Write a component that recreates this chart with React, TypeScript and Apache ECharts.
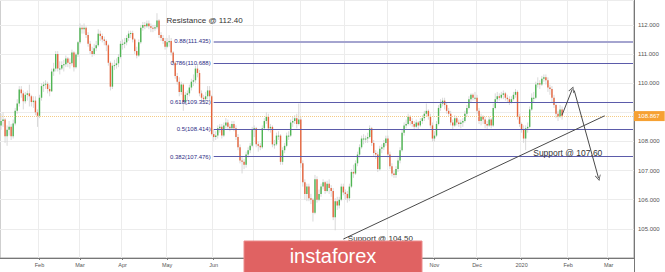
import React, { useEffect, useRef } from 'react';
import * as echarts from 'echarts';

// ---- Daily candles [open, close, low, high], one small array per month ----
const jan19 = [
  [108.55,108.70,108.40,108.95],[108.70,108.75,108.50,109.00],[108.75,108.18,107.95,108.80],[108.18,108.40,107.85,108.55],
  [108.40,108.50,108.20,108.70],[108.50,108.18,108.05,108.60],[108.18,108.62,108.10,108.75],[108.62,109.05,108.55,109.15],
  [109.05,109.30,108.95,109.45],[109.30,109.78,109.20,109.90],[109.78,109.65,109.50,109.90],[109.65,109.38,109.10,109.75],
  [109.38,109.60,109.30,109.70],[109.60,109.65,109.40,109.75],[109.65,109.55,109.20,109.95],[109.55,109.35,109.20,109.60],
  [109.35,109.40,109.15,109.55],[109.40,109.00,108.90,109.55],[109.00,108.88,108.50,109.10],
];
const feb19 = [
  [108.88,109.50,108.80,109.60],[109.50,109.90,109.40,110.00],[109.90,109.95,109.70,110.05],[109.95,109.98,109.80,110.10],
  [109.98,109.80,109.65,110.05],[109.80,109.72,109.55,109.95],[109.72,110.40,109.70,110.50],[110.40,110.50,110.25,110.70],
  [110.50,111.00,110.40,111.10],[111.00,110.50,110.40,111.10],[110.50,110.50,110.30,110.75],[110.50,110.62,110.45,110.75],
  [110.62,110.65,110.40,110.80],[110.65,110.85,110.55,110.95],[110.85,110.70,110.55,110.90],[110.70,110.68,110.50,110.85],
  [110.68,111.05,110.60,111.15],[111.05,110.55,110.40,111.10],[110.55,110.98,110.50,111.05],[110.98,111.40,110.90,111.45],
];
const mar19 = [
  [111.40,111.90,111.35,112.05],[111.90,111.85,111.70,112.00],[111.85,111.90,111.70,112.05],[111.90,111.65,111.55,111.95],
  [111.65,111.35,111.25,111.75],[111.35,111.10,111.00,111.45],[111.10,111.00,110.90,111.25],[111.00,111.20,110.95,111.35],
  [111.20,111.30,111.10,111.45],[111.30,111.70,111.25,111.85],[111.70,111.62,111.45,111.80],[111.62,111.50,111.40,111.70],
  [111.50,111.45,111.30,111.60],[111.45,111.30,111.10,111.50],[111.30,110.70,110.60,111.35],[110.70,109.88,109.75,110.75],
  [109.88,110.60,109.80,110.70],[110.60,110.62,110.45,110.80],[110.62,110.68,110.50,110.85],[110.68,110.90,110.55,111.00],
  [110.90,111.35,110.85,111.45],
];
const apr19 = [
  [111.35,111.35,111.15,111.50],[111.35,111.40,111.20,111.55],[111.40,111.55,111.30,111.65],[111.55,111.70,111.45,111.80],
  [111.70,111.72,111.55,111.80],[111.72,111.50,111.40,111.80],[111.50,111.10,111.00,111.55],[111.10,110.95,110.85,111.25],
  [110.95,111.40,110.90,111.50],[111.40,111.90,111.35,112.00],[111.90,112.00,111.80,112.10],[112.00,111.95,111.85,112.10],
  [111.95,112.05,111.90,112.15],[112.05,111.95,111.85,112.15],[111.95,111.90,111.75,112.05],[111.90,111.88,111.75,112.00],
  [111.88,111.92,111.80,112.00],[111.92,112.15,111.85,112.40],[112.15,111.65,111.55,112.20],[111.65,111.55,111.45,111.75],
  [111.55,111.45,111.35,111.65],[111.45,111.25,111.15,111.55],
];
const may19 = [
  [111.25,111.40,111.20,111.55],[111.40,111.45,111.25,111.65],[111.45,111.05,110.95,111.55],[111.05,110.70,110.60,111.10],
  [110.70,110.25,110.15,110.75],[110.25,110.05,109.95,110.35],[110.05,109.70,109.55,110.20],[109.70,109.95,109.60,110.05],
  [109.95,109.35,109.05,110.00],[109.35,109.60,109.25,109.70],[109.60,109.65,109.40,109.75],[109.65,109.85,109.55,109.95],
  [109.85,110.05,109.75,110.15],[110.05,110.10,109.90,110.30],[110.10,110.50,110.00,110.60],[110.50,110.35,110.20,110.65],
  [110.35,109.65,109.55,110.45],[109.65,109.50,109.35,109.75],[109.50,109.45,109.30,109.60],[109.45,109.55,109.35,109.70],
  [109.55,109.75,109.45,109.90],[109.75,109.55,109.40,109.90],[109.55,108.25,108.20,109.60],
];
const jun19 = [
  [108.25,108.15,108.00,108.40],[108.15,108.20,108.05,108.35],[108.20,108.45,108.10,108.55],[108.45,108.50,108.30,108.60],
  [108.50,108.20,108.10,108.60],[108.20,108.55,108.15,108.65],[108.55,108.65,108.45,108.80],[108.65,108.50,108.40,108.75],
  [108.50,108.45,108.35,108.60],[108.45,108.60,108.40,108.70],[108.60,108.45,108.35,108.70],[108.45,108.15,108.05,108.55],
  [108.15,107.80,107.70,108.25],[107.80,107.35,107.25,107.90],[107.35,107.30,106.90,107.50],[107.30,107.20,107.05,107.40],
  [107.20,107.55,107.10,107.65],[107.55,107.70,107.45,107.80],[107.70,107.85,107.60,107.95],[107.85,108.40,107.80,108.50],
];
const jul19 = [
  [108.40,108.45,108.15,108.55],[108.45,107.90,107.80,108.50],[107.90,107.85,107.65,108.00],[107.85,107.80,107.70,107.95],
  [107.80,108.45,107.75,108.55],[108.45,108.70,108.40,108.80],[108.70,108.85,108.60,109.00],[108.85,108.45,108.35,108.95],
  [108.45,108.50,108.30,108.60],[108.50,107.90,107.80,108.55],[107.90,107.90,107.75,108.05],[107.90,108.20,107.85,108.30],
  [108.20,108.20,108.05,108.35],[108.20,107.30,107.20,108.25],[107.30,107.70,107.20,107.80],[107.70,107.85,107.60,107.95],
  [107.85,108.20,107.80,108.30],[108.20,108.20,108.05,108.35],[108.20,108.65,108.15,108.75],[108.65,108.70,108.50,108.85],
  [108.70,108.80,108.60,108.90],[108.80,108.60,108.45,108.95],[108.60,108.75,108.55,109.30],
];
const aug19 = [
  [108.75,107.25,107.10,108.85],[107.25,106.60,106.45,107.35],[106.60,106.20,106.00,106.70],[106.20,106.45,105.95,106.55],
  [106.45,106.05,105.95,106.55],[106.05,106.00,105.85,106.20],[106.00,105.55,105.25,106.05],[105.55,106.70,105.50,106.85],
  [106.70,106.00,105.90,106.80],[106.00,106.20,105.95,106.35],[106.20,106.45,106.10,106.55],[106.45,106.60,106.35,106.70],
  [106.60,106.30,106.20,106.65],[106.30,106.55,106.25,106.65],[106.55,106.40,106.20,106.70],[106.40,106.30,106.10,106.50],
  [106.30,105.40,105.30,106.40],[105.40,105.95,104.95,106.05],[105.95,105.80,105.65,106.10],[105.80,106.00,105.70,106.10],
  [106.00,106.45,105.95,106.55],[106.45,106.25,106.15,106.55],
];
const sep19 = [
  [106.25,106.20,106.00,106.35],[106.20,106.05,105.90,106.30],[106.05,106.45,105.95,106.55],[106.45,106.95,106.40,107.05],
  [106.95,106.90,106.75,107.20],[106.90,107.25,106.85,107.35],[107.25,107.55,107.15,107.65],[107.55,107.80,107.45,107.90],
  [107.80,108.10,107.75,108.20],[108.10,108.10,107.90,108.25],[108.10,108.10,107.95,108.20],[108.10,108.15,107.95,108.30],
  [108.15,108.45,108.10,108.55],[108.45,107.95,107.85,108.50],[107.95,107.60,107.50,108.05],[107.60,107.55,107.40,107.70],
  [107.55,107.05,106.95,107.65],[107.05,107.75,107.00,107.85],[107.75,107.80,107.60,107.90],[107.80,107.95,107.70,108.05],
  [107.95,108.10,107.85,108.20],
];
const oct19 = [
  [108.10,107.55,107.45,108.20],[107.55,107.15,107.05,107.65],[107.15,106.90,106.80,107.25],[106.90,106.85,106.75,107.00],
  [106.85,107.05,106.75,107.15],[107.05,107.35,106.95,107.45],[107.35,107.70,107.25,107.80],[107.70,108.30,107.65,108.40],
  [108.30,108.55,108.20,108.65],[108.55,108.60,108.45,108.75],[108.60,108.85,108.55,108.95],[108.85,108.70,108.55,108.90],
  [108.70,108.60,108.50,108.80],[108.60,108.50,108.40,108.70],[108.50,108.65,108.45,108.75],[108.65,108.55,108.40,108.70],
  [108.55,108.70,108.50,108.80],[108.70,108.80,108.60,108.90],[108.80,108.95,108.70,109.05],[108.95,109.05,108.85,109.30],
  [109.05,108.85,108.75,109.10],[108.85,108.55,108.45,108.95],[108.55,108.10,108.00,108.65],
];
const nov19 = [
  [108.10,108.20,108.00,108.35],[108.20,108.60,108.15,108.70],[108.60,109.15,108.55,109.25],[109.15,109.30,109.05,109.45],
  [109.30,109.40,109.20,109.50],[109.40,109.25,109.10,109.50],[109.25,109.05,108.95,109.35],[109.05,108.95,108.85,109.15],
  [108.95,108.65,108.55,109.05],[108.65,108.55,108.40,108.75],[108.55,108.80,108.50,108.90],[108.80,108.65,108.55,108.85],
  [108.65,108.60,108.50,108.75],[108.60,108.65,108.45,108.75],[108.65,108.70,108.50,108.80],[108.70,108.95,108.65,109.05],
  [108.95,109.15,108.85,109.25],[109.15,109.45,109.10,109.55],[109.45,109.60,109.35,109.65],[109.60,109.50,109.40,109.65],
  [109.50,109.50,109.40,109.70],
];
const dec19 = [
  [109.50,109.05,108.95,109.60],[109.05,108.70,108.60,109.15],[108.70,108.85,108.55,108.95],[108.85,108.75,108.60,108.90],
  [108.75,108.60,108.45,108.85],[108.60,108.55,108.40,108.70],[108.55,108.75,108.50,108.85],[108.75,108.55,108.45,108.80],
  [108.55,109.15,108.50,109.30],[109.15,109.45,109.10,109.65],[109.45,109.55,109.35,109.70],[109.55,109.50,109.40,109.65],
  [109.50,109.60,109.45,109.70],[109.60,109.65,109.45,109.75],[109.65,109.50,109.40,109.70],[109.50,109.45,109.35,109.60],
  [109.45,109.35,109.25,109.55],[109.35,109.45,109.30,109.55],[109.45,109.60,109.40,109.70],[109.60,109.70,109.50,109.80],
  [109.70,108.85,108.75,109.75],[108.85,108.60,108.50,108.95],
];
const jan20 = [
  [108.60,108.40,108.30,108.65],[108.40,108.10,107.95,108.55],[108.10,108.45,107.70,108.55],[108.45,108.50,108.30,108.65],
  [108.50,109.10,108.45,109.20],[109.10,109.50,109.05,109.65],[109.50,109.50,109.35,109.70],[109.50,109.95,109.45,110.05],
  [109.95,110.00,109.85,110.20],[110.00,109.95,109.80,110.10],[109.95,110.15,109.90,110.25],[110.15,110.20,110.05,110.30],
  [110.20,110.10,109.95,110.30],[110.10,109.85,109.70,110.20],[109.85,109.80,109.60,109.95],[109.80,109.50,109.35,109.90],
  [109.50,109.25,109.15,109.60],[109.25,108.95,108.80,109.30],[108.95,108.85,108.70,109.05],[108.85,109.10,108.80,109.25],
  [109.10,108.867,108.75,109.20],
];

// ---- Annotation values ----
const fibRatios = ['0.88', '0.786', '0.618', '0.5', '0.382'];
const fibPrices = [111.435, 110.688, 109.352, 108.414, 107.476];
const lastPrice = 108.867;
const resistanceText = 'Resistance @ 112.40';
const supportLowText = 'Support @ 104.50';
const supportText = 'Support @ 107.60';
const monthNames = ['Jan','Feb','Mar','Apr','May','Jun','Jul','Aug','Sep','Oct','Nov','Dec'];
// month labels that sit under the logo in the reference (not visible there)
const hiddenMonthLabels = ['2019-07', '2019-08', '2019-09', '2019-10'];
// y tick label that sits under the last-price box
const hiddenPriceLabel = 109;

const UP = '#4fb553';
const DOWN = '#e6663f';
const FONT = '"Liberation Sans", Arial, sans-serif';
const CATEGORY_COUNT = 313;

function buildDays(n: number): string[] {
  const out: string[] = [];
  let t = Date.UTC(2019, 0, 7);
  while (out.length < n) {
    const d = new Date(t);
    const wd = d.getUTCDay();
    if (wd !== 0 && wd !== 6) out.push(d.toISOString().slice(0, 10));
    t += 86400000;
  }
  return out;
}

export default function App() {
  const ref = useRef<HTMLDivElement>(null);
  useEffect(() => {
    document.body.style.margin = '0';
    const chart = echarts.init(ref.current!, null, { renderer: 'svg' });

    const days = buildDays(CATEGORY_COUNT);
    const monthStarts = new Set<number>();
    for (let i = 1; i < days.length; i++) {
      if (days[i].slice(5, 7) !== days[i - 1].slice(5, 7)) monthStarts.add(i);
    }
    const isMonth = (idx: number) => monthStarts.has(idx);
    const isLabel = (idx: number) => monthStarts.has(idx) && !hiddenMonthLabels.includes(days[idx].slice(0, 7));
    const labelFor = (v: string) => {
      const m = parseInt(v.slice(5, 7), 10);
      return m === 1 ? v.slice(0, 4) : monthNames[m - 1];
    };

    const ohlc = [...jan19, ...feb19, ...mar19, ...apr19, ...may19, ...jun19, ...jul19,
      ...aug19, ...sep19, ...oct19, ...nov19, ...dec19, ...jan20];
    const candles = ohlc.map((d, i) => [i, d[0], d[1], d[2], d[3]]);
    const lastCat = CATEGORY_COUNT - 1;
    const fibStart = 105;
    const chevron = 'path://M5,0L10,10L8.6,10L5,2.8L1.4,10L0,10Z';

    const fibLines = fibPrices.map((p, k) => [
      {
        coord: [fibStart, p],
        lineStyle: { color: k === 0 ? '#a4a4cf' : '#5b5baa', width: k === 0 ? 2 : 1, type: 'solid' },
        label: {
          show: true, position: 'start', distance: 3,
          formatter: `${fibRatios[k]}(${p.toFixed(3)})`,
          color: '#2c2c85', fontSize: 6, fontFamily: FONT,
        },
      },
      { coord: [lastCat, p] },
    ]);

    const option: any = {
      animation: false,
      backgroundColor: '#ffffff',
      grid: { left: 0, right: 31, top: 0, bottom: 14, show: true, borderColor: '#a0a0a0', borderWidth: 1 },
      xAxis: {
        type: 'category',
        data: days,
        boundaryGap: true,
        axisLine: { lineStyle: { color: '#777', width: 1 } },
        axisTick: { show: true, alignWithLabel: true, length: 2, interval: isMonth, lineStyle: { color: '#777' } },
        axisLabel: { interval: isLabel, formatter: (v: string) => labelFor(v), fontSize: 5.5, color: '#555', margin: 4, fontFamily: FONT },
        splitLine: { show: true, interval: isMonth, lineStyle: { color: '#ececec', width: 1 } },
      },
      yAxis: {
        type: 'value',
        position: 'right',
        min: 104,
        max: 112.854,
        interval: 1,
        axisLine: { show: true, lineStyle: { color: '#777' } },
        axisTick: { show: false },
        axisLabel: {
          formatter: (v: number) => (Math.abs(v - hiddenPriceLabel) < 1e-6 ? '' : v.toFixed(3)),
          fontSize: 6, color: '#555', margin: 4,
          showMinLabel: false, showMaxLabel: false, fontFamily: FONT,
        },
        splitLine: { show: true, lineStyle: { color: '#ececec', width: 1 } },
      },
      series: [
        {
          type: 'line',
          name: 'marks',
          data: [],
          z: 1,
          silent: true,
          markLine: {
            silent: true,
            animation: false,
            symbol: ['none', 'none'],
            data: [
              ...fibLines,
              {
                yAxis: lastPrice,
                lineStyle: { color: '#f4cb85', width: 1, type: 'dotted' },
                label: {
                  show: true, position: 'end', distance: 0, formatter: lastPrice.toFixed(3),
                  backgroundColor: '#f6a133', color: '#ffffff', padding: [2, 5, 2, 4],
                  fontSize: 6, fontFamily: FONT,
                },
              },
              [
                { coord: [169, 104.65], lineStyle: { color: '#4a4a4a', width: 1, type: 'solid' }, label: { show: false } },
                { coord: [298, 108.88] },
              ],
              [
                { coord: [277, 108.91], lineStyle: { color: '#4a4a4a', width: 1, type: 'solid' }, label: { show: false } },
                { coord: [282, 109.79], symbol: chevron, symbolSize: [6, 6] },
              ],
              [
                { coord: [283, 109.75], lineStyle: { color: '#4a4a4a', width: 1, type: 'solid' }, label: { show: false } },
                { coord: [295, 106.74], symbol: chevron, symbolSize: [6, 6] },
              ],
            ],
          },
          markPoint: {
            silent: true,
            animation: false,
            symbol: 'circle',
            symbolSize: 1,
            itemStyle: { color: 'rgba(0,0,0,0)' },
            label: { show: true, position: 'right', distance: 1, color: '#333', fontSize: 8, fontFamily: FONT },
            data: [
              { coord: [81, 112.14], label: { formatter: resistanceText } },
              { coord: [170, 104.66], label: { formatter: supportLowText, distance: 2 } },
              { coord: [262, 107.6], label: { formatter: supportText, fontSize: 8.5 } },
            ],
          },
        },
        {
          type: 'custom',
          name: 'USDJPY',
          z: 2,
          clip: true,
          encode: { x: 0, y: [1, 2, 3, 4] },
          data: candles,
          renderItem: (params: any, api: any) => {
            const idx = api.value(0);
            const o = api.value(1);
            const c = api.value(2);
            const l = api.value(3);
            const h = api.value(4);
            const pO = api.coord([idx, o]);
            const pC = api.coord([idx, c]);
            const pL = api.coord([idx, l]);
            const pH = api.coord([idx, h]);
            const bw = api.size([1, 0])[0] * 0.7;
            const top = Math.min(pO[1], pC[1]);
            const hgt = Math.max(Math.abs(pO[1] - pC[1]), 1);
            return {
              type: 'group',
              children: [
                { type: 'line', shape: { x1: pH[0], y1: pH[1], x2: pL[0], y2: pL[1] }, style: { stroke: '#cfcfcf', lineWidth: 0.8 } },
                { type: 'rect', shape: { x: pO[0] - bw / 2, y: top, width: bw, height: hgt }, style: { fill: c >= o ? UP : DOWN } },
              ],
            };
          },
        },
      ],
      graphic: [
        { type: 'line', shape: { x1: 634.5, y1: 258, x2: 634.5, y2: 272 }, style: { stroke: '#777', lineWidth: 1 }, z: 5 },
        {
          type: 'rect', x: 244, y: 241, shape: { x: 0, y: 0, width: 178, height: 32 },
          style: { fill: '#e06262', stroke: '#ec8c8c', lineWidth: 1 }, z: 100,
        },
        {
          type: 'text', x: 333, y: 256, z: 101,
          style: { text: 'instaforex', fill: '#ffffff', fontSize: 20, fontFamily: FONT, align: 'center', verticalAlign: 'middle' },
        },
      ],
    };

    chart.setOption(option);
    return () => chart.dispose();
  }, []);
  return <div ref={ref} style={{ width: 665, height: 272 }} />;
}
